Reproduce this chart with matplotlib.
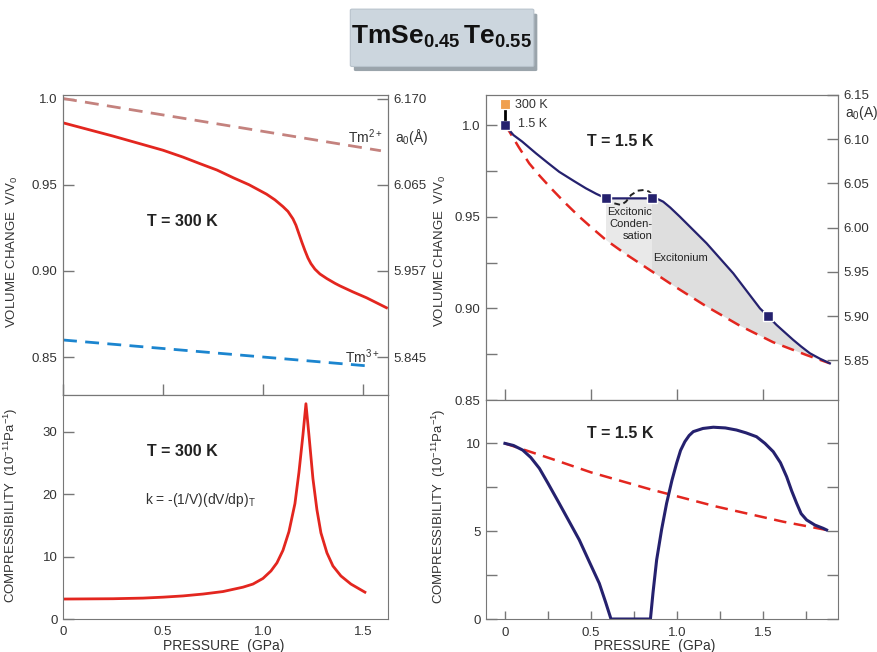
import matplotlib
matplotlib.use("Agg")
import matplotlib.pyplot as plt
from matplotlib.patches import FancyBboxPatch

plt.rcParams['font.family'] = ['Liberation Sans', 'DejaVu Sans']
plt.rcParams['mathtext.fontset'] = 'custom'
plt.rcParams['mathtext.rm'] = 'Liberation Sans'
plt.rcParams['mathtext.it'] = 'Liberation Sans:italic'
plt.rcParams['mathtext.bf'] = 'Liberation Sans:bold'
plt.rcParams['mathtext.default'] = 'regular'

# T = 300 K, volume change V/V0 vs pressure (GPa)
p300 = [0, 0.25, 0.5, 0.6, 0.685, 0.77, 0.852, 0.93, 1.018, 1.06, 1.10, 1.125, 1.15,
        1.165, 1.18, 1.195, 1.21, 1.225, 1.24, 1.26, 1.285, 1.32, 1.36, 1.385, 1.45,
        1.518, 1.618]
v300 = [0.9859, 0.9782, 0.9700, 0.9660, 0.9622, 0.9585, 0.9540, 0.9500, 0.9445, 0.9412,
        0.9373, 0.9345, 0.9302, 0.9265, 0.9215, 0.9165, 0.9118, 0.9075, 0.9042, 0.9010,
        0.8982, 0.8955, 0.8928, 0.8913, 0.8878, 0.8844, 0.8786]
p_tm2 = [0, 1.59]
v_tm2 = [1.0, 0.9697]
p_tm3 = [0, 1.52]
v_tm3 = [0.8599, 0.8449]
a0_ticks_left = [1.0, 0.95, 0.90, 0.85]
a0_labels_left = ['6.170', '6.065', '5.957', '5.845']

# T = 300 K, compressibility (1e-11 Pa^-1)
pk300 = [0, 0.25, 0.4, 0.5, 0.6, 0.7, 0.8, 0.9, 0.95, 1.0, 1.04, 1.07, 1.10, 1.13, 1.16,
         1.18, 1.2, 1.215, 1.23, 1.25, 1.27, 1.29, 1.32, 1.35, 1.39, 1.44, 1.51]
k300 = [3.2, 3.25, 3.35, 3.5, 3.7, 4.0, 4.4, 5.1, 5.6, 6.5, 7.7, 9.0, 11.0, 14.0, 18.5,
        23.5, 29.5, 34.5, 29.5, 22.5, 17.5, 13.8, 10.6, 8.5, 6.9, 5.6, 4.3]

# T = 1.5 K, volume change
pv15 = [0, 0.05, 0.1, 0.18, 0.25, 0.315, 0.4, 0.47, 0.53, 0.587, 0.857, 0.89, 0.919,
        0.96, 1.016, 1.171, 1.326, 1.481, 1.525, 1.578, 1.63, 1.674, 1.72, 1.771, 1.83,
        1.887]
vv15 = [1.0, 0.9945, 0.991, 0.9846, 0.9793, 0.9745, 0.9695, 0.9655, 0.9625, 0.960, 0.960,
        0.9595, 0.9582, 0.9550, 0.950, 0.9355, 0.9191, 0.900, 0.8959, 0.8909, 0.8865,
        0.8828, 0.8792, 0.8755, 0.8725, 0.870]
pr15 = [0, 0.025, 0.08, 0.141, 0.2, 0.277, 0.35, 0.432, 0.51, 0.587, 0.703, 0.784,
        0.977, 1.171, 1.365, 1.558, 1.752, 1.887]
vr15 = [1.0, 0.9966, 0.988, 0.9791, 0.9725, 0.9646, 0.9575, 0.950, 0.9435, 0.9373,
        0.9295, 0.9245, 0.9125, 0.9010, 0.8905, 0.8815, 0.8745, 0.870]
loop_p = [0.587, 0.61, 0.635, 0.674, 0.703, 0.732, 0.771, 0.809, 0.835, 0.848, 0.857]
loop_v = [0.960, 0.9585, 0.9573, 0.9564, 0.9582, 0.9618, 0.9642, 0.9646, 0.9638, 0.9627,
          0.960]
sq_p = [0, 0.587, 0.857, 1.525]
sq_v = [1.0, 0.960, 0.960, 0.8959]
p_300mark = 0
v_300mark = 1.0114

# T = 1.5 K, compressibility
pk15 = [0, 0.05, 0.103, 0.15, 0.2, 0.25, 0.315, 0.375, 0.432, 0.49, 0.548, 0.585, 0.616,
        0.845, 0.86, 0.881, 0.91, 0.939, 0.97, 0.997, 1.02, 1.045, 1.07, 1.094, 1.15,
        1.21, 1.28, 1.345, 1.40, 1.461, 1.51, 1.558, 1.60, 1.636, 1.665, 1.694, 1.72,
        1.752, 1.80, 1.849, 1.868]
kk15 = [10.0, 9.88, 9.62, 9.2, 8.58, 7.73, 6.59, 5.52, 4.50, 3.26, 2.03, 0.95, 0,
        0, 1.5, 3.36, 5.1, 6.59, 7.9, 8.87, 9.6, 10.1, 10.45, 10.67, 10.85,
        10.92, 10.88, 10.76, 10.6, 10.38, 10.0, 9.53, 8.9, 8.10, 7.3, 6.59, 6.0,
        5.64, 5.35, 5.16, 5.07]
prk15 = [0, 0.277, 0.5, 0.842, 1.229, 1.616, 1.868]
krk15 = [10.0, 9.1, 8.35, 7.39, 6.40, 5.54, 5.07]

red = '#e3261f'
navy = '#25216e'
spine_c = '#777777'
txt_c = '#333333'

fig = plt.figure(figsize=(8.78, 6.52), dpi=100)
ax1 = fig.add_axes([0.0718, 0.3942, 0.370, 0.460])
ax2 = fig.add_axes([0.0718, 0.0506, 0.370, 0.3436])
ax3 = fig.add_axes([0.5535, 0.3865, 0.4009, 0.4678])
ax4 = fig.add_axes([0.5535, 0.0506, 0.4009, 0.3359])


def style(ax):
    for s in ax.spines.values():
        s.set_color(spine_c)
    ax.tick_params(direction='in', colors=spine_c, labelcolor=txt_c, labelsize=9.5,
                   length=8, width=1, pad=4)


# ---- top left
ax1.plot(p_tm2, v_tm2, color='#c4827e', lw=2, dashes=(5, 3))
ax1.plot(p300, v300, color=red, lw=2)
ax1.plot(p_tm3, v_tm3, color='#1b85cf', lw=2, dashes=(5, 3))
ax1.set_xlim(0, 1.625)
ax1.set_ylim(0.828, 1.002)
ax1.set_xticks([0, 0.5, 1.0, 1.5])
ax1.set_yticks(a0_ticks_left, ['1.0', '0.95', '0.90', '0.85'])
style(ax1)
ax1.tick_params(axis='x', labelbottom=False)
t1 = ax1.twinx()
t1.set_ylim(ax1.get_ylim())
t1.set_yticks(a0_ticks_left, a0_labels_left)
style(t1)
ax1.set_ylabel('VOLUME CHANGE  V/V$_0$', fontsize=9.5, color=txt_c)
ax1.yaxis.set_label_coords(-0.132, 0.477)
ax1.text(0.366, 0.577, 'T = 300 K', transform=ax1.transAxes, ha='center', va='center',
         fontsize=11.5, fontweight='bold', color='#222222')
ax1.text(0.877, 0.86, 'Tm$^{2+}$', transform=ax1.transAxes, ha='left', va='center',
         fontsize=10, color=txt_c)
ax1.text(0.868, 0.128, 'Tm$^{3+}$', transform=ax1.transAxes, ha='left', va='center',
         fontsize=10, color=txt_c)
ax1.text(1.022, 0.86, 'a$_0$(Å)', transform=ax1.transAxes, ha='left', va='center',
         fontsize=10, color=txt_c)

# ---- bottom left
ax2.plot(pk300, k300, color=red, lw=2)
ax2.set_xlim(0, 1.625)
ax2.set_ylim(0, 35.9)
ax2.set_xticks([0, 0.5, 1.0, 1.5], ['0', '0.5', '1.0', '1.5'])
ax2.set_yticks([0, 10, 20, 30])
style(ax2)
ax2.tick_params(axis='x', length=0, pad=5)
ax2.set_ylabel('COMPRESSIBILITY  (10$^{-11}$Pa$^{-1}$)', fontsize=9.5, color=txt_c)
ax2.yaxis.set_label_coords(-0.132, 0.51)
ax2.set_xlabel('PRESSURE  (GPa)', fontsize=10, color=txt_c)
ax2.xaxis.set_label_coords(0.495, -0.088)
ax2.text(0.366, 0.746, 'T = 300 K', transform=ax2.transAxes, ha='center', va='center',
         fontsize=11.5, fontweight='bold', color='#222222')
ax2.text(0.252, 0.531, 'k = -(1/V)(dV/dp)$_T$', transform=ax2.transAxes, ha='left',
         va='center', fontsize=10, color=txt_c)

# ---- top right
i0 = pv15.index(0.587)
j0 = pr15.index(0.587)
poly_p = pv15[i0:] + pr15[j0:][::-1]
poly_v = vv15[i0:] + vr15[j0:][::-1]
ax3.fill(poly_p, poly_v, color='#dedede', lw=0, zorder=1)
ax3.axvspan(0.587, 0.857, ymin=0, ymax=0.68, color='white', alpha=0.35, lw=0, zorder=1.5)
ax3.plot(pr15, vr15, color=red, lw=1.8, dashes=(5, 3), zorder=2)
ax3.plot(pv15, vv15, color=navy, lw=1.6, zorder=3)
ax3.plot(loop_p, loop_v, color='#222222', lw=1.4, dashes=(3, 2), zorder=3)
ax3.plot(sq_p, sq_v, ls='none', marker='s', ms=7.5, mfc=navy, mec='white', mew=1,
         zorder=4)
ax3.plot([0, 0], [1.0035, 1.0075], color='black', lw=2, zorder=4)
ax3.plot([p_300mark], [v_300mark], ls='none', marker='s', ms=7, mfc='#f0a050',
         mec='white', mew=0.8, zorder=4)
ax3.set_xlim(-0.11, 1.934)
ax3.set_ylim(0.85, 1.0164)
ax3.set_xticks([0, 0.5, 1.0, 1.5])
ax3.set_yticks([0.85, 0.875, 0.90, 0.925, 0.95, 0.975, 1.0],
               ['0.85', '', '0.90', '', '0.95', '', '1.0'])
style(ax3)
ax3.tick_params(axis='x', labelbottom=False)
t3 = ax3.twinx()
t3.set_ylim(5.805, 6.15)
t3.set_yticks([5.85, 5.90, 5.95, 6.00, 6.05, 6.10, 6.15])
style(t3)
ax3.set_ylabel('VOLUME CHANGE  V/V$_0$', fontsize=9.5, color=txt_c)
ax3.yaxis.set_label_coords(-0.108, 0.489)
ax3.text(0.381, 0.846, 'T = 1.5 K', transform=ax3.transAxes, ha='center', va='center',
         fontsize=11.5, fontweight='bold', color='#222222')
ax3.text(0.082, 0.967, '300 K', transform=ax3.transAxes, ha='left', va='center',
         fontsize=9, color=txt_c)
ax3.text(0.091, 0.905, '1.5 K', transform=ax3.transAxes, ha='left', va='center',
         fontsize=9, color=txt_c)
ax3.text(1.02, 0.941, 'a$_0$(A)', transform=ax3.transAxes, ha='left', va='center',
         fontsize=10, color=txt_c)
ax3.text(0.472, 0.577, 'Excitonic\nConden-\nsation', transform=ax3.transAxes,
         ha='right', va='center', fontsize=8, color='#222222', linespacing=1.25,
         multialignment='right')
ax3.text(0.554, 0.466, 'Excitonium', transform=ax3.transAxes, ha='center',
         va='center', fontsize=8, color='#222222')

# ---- bottom right
ax4.plot(prk15, krk15, color=red, lw=1.8, dashes=(5, 3))
ax4.plot(pk15, kk15, color=navy, lw=2.2)
ax4.set_xlim(-0.11, 1.934)
ax4.set_ylim(0, 12.47)
ax4.set_xticks([0, 0.25, 0.5, 0.75, 1.0, 1.25, 1.5, 1.75],
               ['0', '', '0.5', '', '1.0', '', '1.5', ''])
ax4.set_yticks([0, 2.5, 5, 7.5, 10], ['0', '', '5', '', '10'])
style(ax4)
ax4.tick_params(axis='x', length=6, pad=6)
ax4.tick_params(axis='y', right=True)
ax4.set_ylabel('COMPRESSIBILITY  (10$^{-11}$Pa$^{-1}$)', fontsize=9.5, color=txt_c)
ax4.yaxis.set_label_coords(-0.108, 0.516)
ax4.set_xlabel('PRESSURE  (GPa)', fontsize=10, color=txt_c)
ax4.xaxis.set_label_coords(0.48, -0.09)
ax4.text(0.381, 0.849, 'T = 1.5 K', transform=ax4.transAxes, ha='center', va='center',
         fontsize=11.5, fontweight='bold', color='#222222')

# ---- title box
shadow = FancyBboxPatch((0.405, 0.893), 0.205, 0.084, boxstyle='round,pad=0.002',
                        transform=fig.transFigure, fc='#9aa4ab', ec='none')
box = FancyBboxPatch((0.401, 0.900), 0.205, 0.084, boxstyle='round,pad=0.002',
                     transform=fig.transFigure, fc='#ccd6de', ec='#b8c3cc', lw=0.8)
fig.patches.extend([shadow, box])
fig.text(0.503, 0.943, r'$\mathbf{TmSe_{0.45}\,Te_{0.55}}$', ha='center', va='center',
         fontsize=19, color='#111111')

fig.savefig('out.png', dpi=100)
